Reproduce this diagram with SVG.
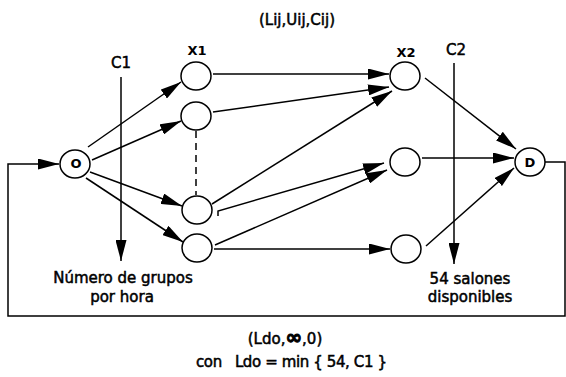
<svg xmlns="http://www.w3.org/2000/svg" width="566" height="377" viewBox="0 0 566 377">
<style>
.n{fill:none;stroke:#000;stroke-width:1.5}
.e{fill:none;stroke:#000;stroke-width:1.5;marker-end:url(#ah)}
.p{fill:none;stroke:#000;stroke-width:1.5}
.t{font-family:"DejaVu Sans",Verdana,sans-serif;font-size:15px;fill:#000;stroke:#000;stroke-width:0.5}
.s{font-family:"DejaVu Sans",Verdana,sans-serif;font-size:13px;font-weight:bold;fill:#000}
</style>
<defs>
<marker id="ah" markerUnits="userSpaceOnUse" markerWidth="21" markerHeight="11" refX="21" refY="5.5" orient="auto">
<path d="M0,0 L21,5.5 L0,11 z" fill="#000"/>
</marker>
</defs>
<rect width="566" height="377" fill="#fff"/>
<g id="connectors">
<line class="e" x1="88" y1="147" x2="181" y2="82"/>
<line class="e" x1="92" y1="160" x2="181" y2="121"/>
<line class="e" x1="90" y1="172" x2="182" y2="206"/>
<line class="e" x1="86" y1="178" x2="183" y2="242"/>
<line class="e" x1="213" y1="74" x2="389" y2="74"/>
<line class="e" x1="213" y1="112" x2="389" y2="87"/>
<line class="e" x1="212" y1="204" x2="392" y2="91"/>
<polyline class="e" points="218,216 218,211 384,163"/>
<line class="e" x1="215" y1="245" x2="387" y2="170"/>
<line class="e" x1="214" y1="249" x2="390" y2="249"/>
<line class="e" x1="425" y1="78" x2="516" y2="149"/>
<line class="e" x1="422" y1="158" x2="514" y2="158"/>
<line class="e" x1="426" y1="246" x2="514" y2="168"/>
<line class="p" x1="196" y1="131" x2="196" y2="195" stroke-dasharray="7,5"/>
<line class="e" x1="121" y1="77" x2="121" y2="261"/>
<line class="e" x1="454" y1="63" x2="454" y2="264"/>
<polyline class="e" points="545,162 565,162 565,316 8,316 8,164 59,164"/>
</g>
<g id="node-O"><ellipse class="n" cx="75" cy="164" rx="15" ry="14"/><text class="s" x="76" y="168" text-anchor="middle" font-size="11">O</text></g>
<g id="node-X1a"><ellipse class="n" cx="196" cy="76" rx="15" ry="14"/></g>
<g id="node-X1b"><ellipse class="n" cx="196" cy="116" rx="15" ry="14"/></g>
<g id="node-X1c"><ellipse class="n" cx="197" cy="210" rx="15" ry="14"/></g>
<g id="node-X1d"><ellipse class="n" cx="197" cy="248" rx="15" ry="14"/></g>
<g id="node-X2a"><ellipse class="n" cx="405" cy="76" rx="15" ry="14"/></g>
<g id="node-X2b"><ellipse class="n" cx="405" cy="162" rx="15" ry="14"/></g>
<g id="node-X2c"><ellipse class="n" cx="406" cy="249" rx="15" ry="14"/></g>
<g id="node-D"><ellipse class="n" cx="530" cy="162" rx="15" ry="14"/><text class="s" x="530" y="167" text-anchor="middle" font-size="12">D</text></g>
<g id="labels">
<text class="t" x="297" y="25" text-anchor="middle">(Lij,Uij,Cij)</text>
<text class="s" x="197" y="55" text-anchor="middle">X1</text>
<text class="s" x="406" y="57" text-anchor="middle">X2</text>
<text class="t" x="121" y="68" text-anchor="middle">C1</text>
<text class="t" x="456" y="55" text-anchor="middle">C2</text>
<text class="t" x="123" y="283" text-anchor="middle">Número de grupos</text>
<text class="t" x="122" y="302" text-anchor="middle">por hora</text>
<text class="t" x="470" y="284" text-anchor="middle">54 salones</text>
<text class="t" x="470" y="302" text-anchor="middle">disponibles</text>
<text class="t" x="285" y="344" text-anchor="middle">(Ldo,<tspan font-weight="bold" font-size="20" stroke-width="1">∞</tspan>,0)</text>
<text class="t" x="196" y="367" xml:space="preserve" textLength="191" lengthAdjust="spacing">con   Ldo = min { 54, C1 }</text>
</g>
</svg>
